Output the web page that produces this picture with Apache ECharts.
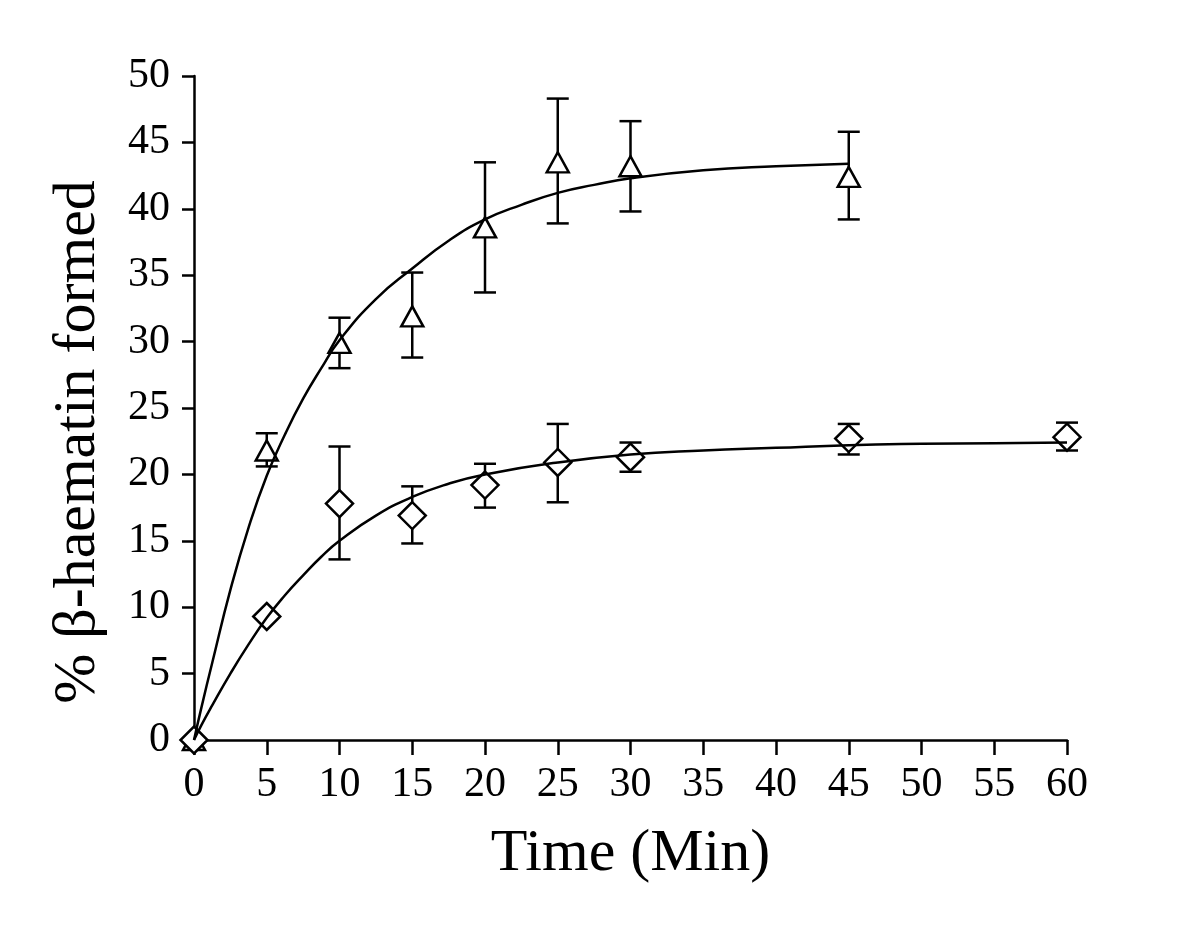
<!DOCTYPE html>
<html>
<head>
<meta charset="utf-8">
<script src="https://cdn.jsdelivr.net/npm/echarts@6/dist/echarts.min.js"></script>
<style>
html,body{margin:0;padding:0;background:#fff;}
#chart{width:1200px;height:932px;}
</style>
</head>
<body>
<div id="chart"></div>
<script>
// Triangle series (upper)
const timesTri = [0, 5, 10, 15, 20, 25, 30, 45];
const triMean  = [0, 21.8, 29.9, 31.9, 38.6, 43.5, 43.2, 42.4];
const triLow   = [0, 20.6, 28.0, 28.8, 33.7, 38.9, 39.8, 39.2];
const triHigh  = [0, 23.1, 31.8, 35.2, 43.5, 48.3, 46.6, 45.8];

// Diamond series (lower)
const timesDia = [0, 5, 10, 15, 20, 25, 30, 45, 60];
const diaMean  = [0, 9.3, 17.8, 16.9, 19.2, 20.9, 21.3, 22.7, 22.8];
const diaLow   = [0, 9.3, 13.6, 14.8, 17.5, 17.9, 20.2, 21.5, 21.8];
const diaHigh  = [0, 9.3, 22.1, 19.1, 20.8, 23.8, 22.4, 23.8, 23.9];

// Fitted curves
const curveTriX = [0, 0.5, 1.25, 2.5, 3.75, 5, 6.25, 7.5, 8.75, 10, 12.5, 15, 17.5, 20, 22.5, 25, 27.5, 30, 35, 40, 45];
const curveTriY = [0, 2.4, 5.8, 11.3, 16.0, 19.9, 23.0, 25.7, 28.0, 30.1, 33.2, 35.5, 37.6, 39.2, 40.3, 41.2, 41.8, 42.3, 42.9, 43.2, 43.4];
const curveDiaX = [0, 0.5, 1.25, 2.5, 3.75, 5, 6.25, 7.5, 8.75, 10, 12.5, 15, 17.5, 20, 25, 30, 35, 40, 45, 50, 55, 60];
const curveDiaY = [0, 1.1, 2.6, 5.0, 7.2, 9.2, 10.9, 12.4, 13.8, 15.0, 16.9, 18.3, 19.3, 20.0, 20.9, 21.5, 21.8, 22.0, 22.2, 22.3, 22.35, 22.4];

const xTicks = [0, 60, 5];   // min, max, interval
const yTicks = [0, 50, 5];

const FONT = 'Liberation Serif, Times New Roman, serif';

function zip(a, b) { return a.map((v, i) => [v, b[i]]); }
function zip3(a, b, c) { return a.map((v, i) => [v, b[i], c[i]]); }

function errRender(params, api) {
  const x = api.value(0), lo = api.value(1), hi = api.value(2);
  if (hi - lo < 0.01) return null;
  const pLo = api.coord([x, lo]);
  const pHi = api.coord([x, hi]);
  const w = 11;
  const st = { stroke: '#000', lineWidth: 2.5 };
  return {
    type: 'group',
    children: [
      { type: 'line', shape: { x1: pLo[0], y1: pLo[1], x2: pHi[0], y2: pHi[1] }, style: st },
      { type: 'line', shape: { x1: pLo[0] - w, y1: pLo[1], x2: pLo[0] + w, y2: pLo[1] }, style: st },
      { type: 'line', shape: { x1: pHi[0] - w, y1: pHi[1], x2: pHi[0] + w, y2: pHi[1] }, style: st }
    ]
  };
}

const chart = echarts.init(document.getElementById('chart'), null, { renderer: 'canvas' });
chart.setOption({
  backgroundColor: '#fff',
  animation: false,
  grid: { left: 194, right: 133, top: 76, bottom: 192, containLabel: false },
  xAxis: {
    type: 'value', min: xTicks[0], max: xTicks[1], interval: xTicks[2],
    name: 'Time (Min)', nameLocation: 'middle', nameGap: 84,
    nameTextStyle: { fontFamily: FONT, fontSize: 60, color: '#000' },
    axisLine: { show: true, onZero: false, lineStyle: { color: '#000', width: 2.5 } },
    axisTick: { show: true, inside: false, length: 15, lineStyle: { color: '#000', width: 2.5 } },
    axisLabel: { fontFamily: FONT, fontSize: 42, color: '#000', margin: 24 },
    splitLine: { show: false }
  },
  yAxis: {
    type: 'value', min: yTicks[0], max: yTicks[1], interval: yTicks[2],
    axisLine: { show: true, onZero: false, lineStyle: { color: '#000', width: 2.5 } },
    axisTick: { show: true, inside: false, length: 12, lineStyle: { color: '#000', width: 2.5 } },
    axisLabel: { fontFamily: FONT, fontSize: 42, color: '#000', margin: 24 },
    splitLine: { show: false }
  },
  graphic: [{
    type: 'text', x: 78, y: 442, rotation: Math.PI / 2,
    style: { text: '% β-haematin formed', font: '60px ' + FONT, fill: '#000', textAlign: 'center', textVerticalAlign: 'middle' }
  }],
  series: [
    { type: 'custom', name: 'triErr', renderItem: errRender, data: zip3(timesTri, triLow, triHigh), z: 1, clip: false },
    { type: 'custom', name: 'diaErr', renderItem: errRender, data: zip3(timesDia, diaLow, diaHigh), z: 1, clip: false },
    { type: 'scatter', name: 'Triangle', data: zip(timesTri, triMean), symbol: 'triangle', symbolSize: [22, 20],
      itemStyle: { color: '#fff', borderColor: '#000', borderWidth: 2.5, opacity: 1 }, z: 2, clip: false },
    { type: 'scatter', name: 'Diamond', data: zip(timesDia, diaMean), symbol: 'diamond', symbolSize: [27, 27],
      itemStyle: { color: '#fff', borderColor: '#000', borderWidth: 2.5, opacity: 1 }, z: 2, clip: false },
    { type: 'line', name: 'fitTri', data: zip(curveTriX, curveTriY), showSymbol: false, smooth: true,
      lineStyle: { color: '#000', width: 2.5 }, z: 3 },
    { type: 'line', name: 'fitDia', data: zip(curveDiaX, curveDiaY), showSymbol: false, smooth: true,
      lineStyle: { color: '#000', width: 2.5 }, z: 3 }
  ]
});
</script>
</body>
</html>
